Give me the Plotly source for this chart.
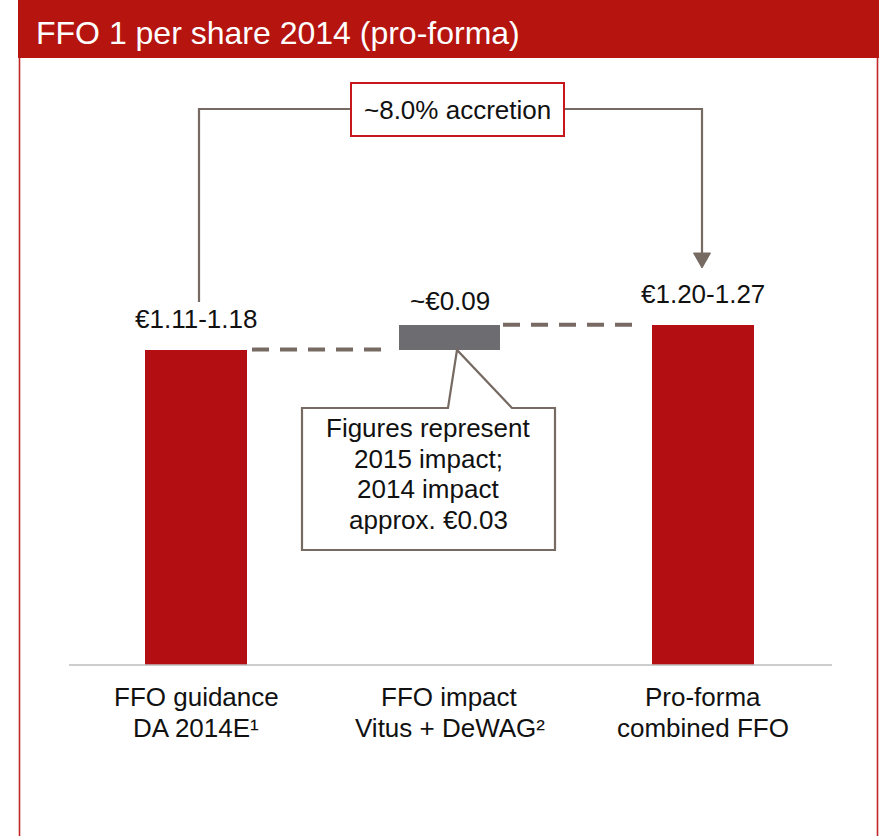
import plotly.graph_objects as go

# ---------------- data ----------------
title = "FFO 1 per share 2014 (pro-forma)"
categories = ["FFO guidance\nDA 2014E¹", "FFO impact\nVitus + DeWAG²", "Pro-forma\ncombined FFO"]
bar_base = [0, 1.145, 0]
bar_height = [1.145, 0.09, 1.235]
value_labels = ["€1.11-1.18", "~€0.09", "€1.20-1.27"]
accretion_label = "~8.0% accretion"
callout_lines = ["Figures represent", "2015 impact;", "2014 impact", "approx. €0.03"]

# ---------------- style ----------------
W, H = 885, 836
RED = "#B30F12"
GREY_BAR = "#6D6C71"
LINE = "#766A63"
FONT = "Liberation Sans, Arial, sans-serif"
bar_colors = [RED, GREY_BAR, RED]

# pixel -> axis mapping (layout helpers)
X0PX, XSTEP = 196, 253.5
Y0PX, YSCALE = 665, 275.5


def X(px):
    return (px - X0PX) / XSTEP


def Y(py):
    return (Y0PX - py) / YSCALE


def PX(px):
    return px / W


def PY(py):
    return 1 - py / H


fig = go.Figure()
fig.add_trace(go.Bar(
    x=categories, y=bar_height, base=bar_base,
    marker=dict(color=bar_colors, line=dict(width=0)),
    width=0.4, hoverinfo="skip", showlegend=False,
))

shapes = []
# header band
shapes.append(dict(type="rect", xref="paper", yref="paper",
                   x0=PX(18), x1=PX(879), y0=PY(58), y1=PY(0),
                   fillcolor="#B5140F", line=dict(width=0), layer="above"))
# frame
for xp in (19.5, 877.5):
    shapes.append(dict(type="line", xref="paper", yref="paper",
                       x0=PX(xp), x1=PX(xp), y0=PY(58), y1=PY(H + 5),
                       line=dict(color="#C4262A", width=1.6)))
# baseline
shapes.append(dict(type="line", xref="paper", yref="y",
                   x0=PX(69), x1=PX(832), y0=0, y1=0,
                   line=dict(color="#BDBDBD", width=1.5), layer="above"))
# dashed connectors
top0 = bar_base[0] + bar_height[0]
top1 = bar_base[1] + bar_height[1]
shapes.append(dict(type="line", xref="paper", yref="y",
                   x0=PX(252), x1=PX(382), y0=top0, y1=top0,
                   line=dict(color=LINE, width=4, dash="17px,11px")))
shapes.append(dict(type="line", xref="paper", yref="y",
                   x0=PX(503), x1=PX(633), y0=top1, y1=top1,
                   line=dict(color=LINE, width=4, dash="17px,11px")))
# accretion bracket
shapes.append(dict(type="path", xref="paper", yref="paper",
                   path=f"M {PX(199)},{PY(302)} L {PX(199)},{PY(109)} L {PX(351)},{PY(109)}",
                   line=dict(color=LINE, width=2.2)))
shapes.append(dict(type="path", xref="paper", yref="paper",
                   path=f"M {PX(564)},{PY(109)} L {PX(702)},{PY(109)} L {PX(702)},{PY(256)}",
                   line=dict(color=LINE, width=2.2)))
shapes.append(dict(type="path", xref="paper", yref="paper",
                   path=f"M {PX(693.5)},{PY(253)} L {PX(710.5)},{PY(253)} L {PX(702)},{PY(268)} Z",
                   fillcolor=LINE, line=dict(color=LINE, width=1)))
# accretion box
shapes.append(dict(type="rect", xref="paper", yref="paper",
                   x0=PX(351), x1=PX(564), y0=PY(136), y1=PY(83),
                   fillcolor="white", line=dict(color="#C8161D", width=2)))
# callout box with pointer
cp = [(302, 408), (448, 408), (457, 350), (512, 408), (555, 408), (555, 550), (302, 550)]
path = "M " + " L ".join(f"{PX(a)},{PY(b)}" for a, b in cp) + " Z"
shapes.append(dict(type="path", xref="paper", yref="paper", path=path,
                   fillcolor="white", line=dict(color=LINE, width=2.2), layer="above"))

annotations = []
annotations.append(dict(text=title, xref="paper", yref="paper", x=PX(34), y=PY(33),
                        xanchor="left", yanchor="middle", showarrow=False,
                        font=dict(family=FONT, size=32, color="white")))
label_shift = [31, 24, 31]
for i, c in enumerate(categories):
    annotations.append(dict(text=value_labels[i], x=c, y=bar_base[i] + bar_height[i],
                            yshift=label_shift[i], xanchor="center", yanchor="middle",
                            showarrow=False, font=dict(family=FONT, size=26, color="#111111")))
    for j, line in enumerate(c.split("\n")):
        annotations.append(dict(text=line, x=c, y=0, yshift=-32 - 31 * j,
                                xanchor="center", yanchor="middle", showarrow=False,
                                font=dict(family=FONT, size=26, color="#111111")))
annotations.append(dict(text=accretion_label, xref="paper", yref="paper",
                        x=PX(457.5), y=PY(110), xanchor="center", yanchor="middle",
                        showarrow=False, font=dict(family=FONT, size=26, color="#111111")))
for j, line in enumerate(callout_lines):
    annotations.append(dict(text=line, xref="paper", yref="paper",
                            x=PX(428), y=PY(428 + 30.7 * j), xanchor="center", yanchor="middle",
                            showarrow=False, font=dict(family=FONT, size=26, color="#111111")))

fig.update_layout(
    width=W, height=H, margin=dict(l=0, r=0, t=0, b=0),
    paper_bgcolor="white", plot_bgcolor="white",
    xaxis=dict(range=[X(0), X(W)], visible=False, fixedrange=True),
    yaxis=dict(range=[Y(H), Y(0)], visible=False, fixedrange=True),
    shapes=shapes, annotations=annotations, bargap=0,
    font=dict(family=FONT),
)
fig.write_html(
    "out.html",
    config={"displayModeBar": False},
    post_script="document.body.style.margin='0';document.body.style.overflow='hidden';",
)
